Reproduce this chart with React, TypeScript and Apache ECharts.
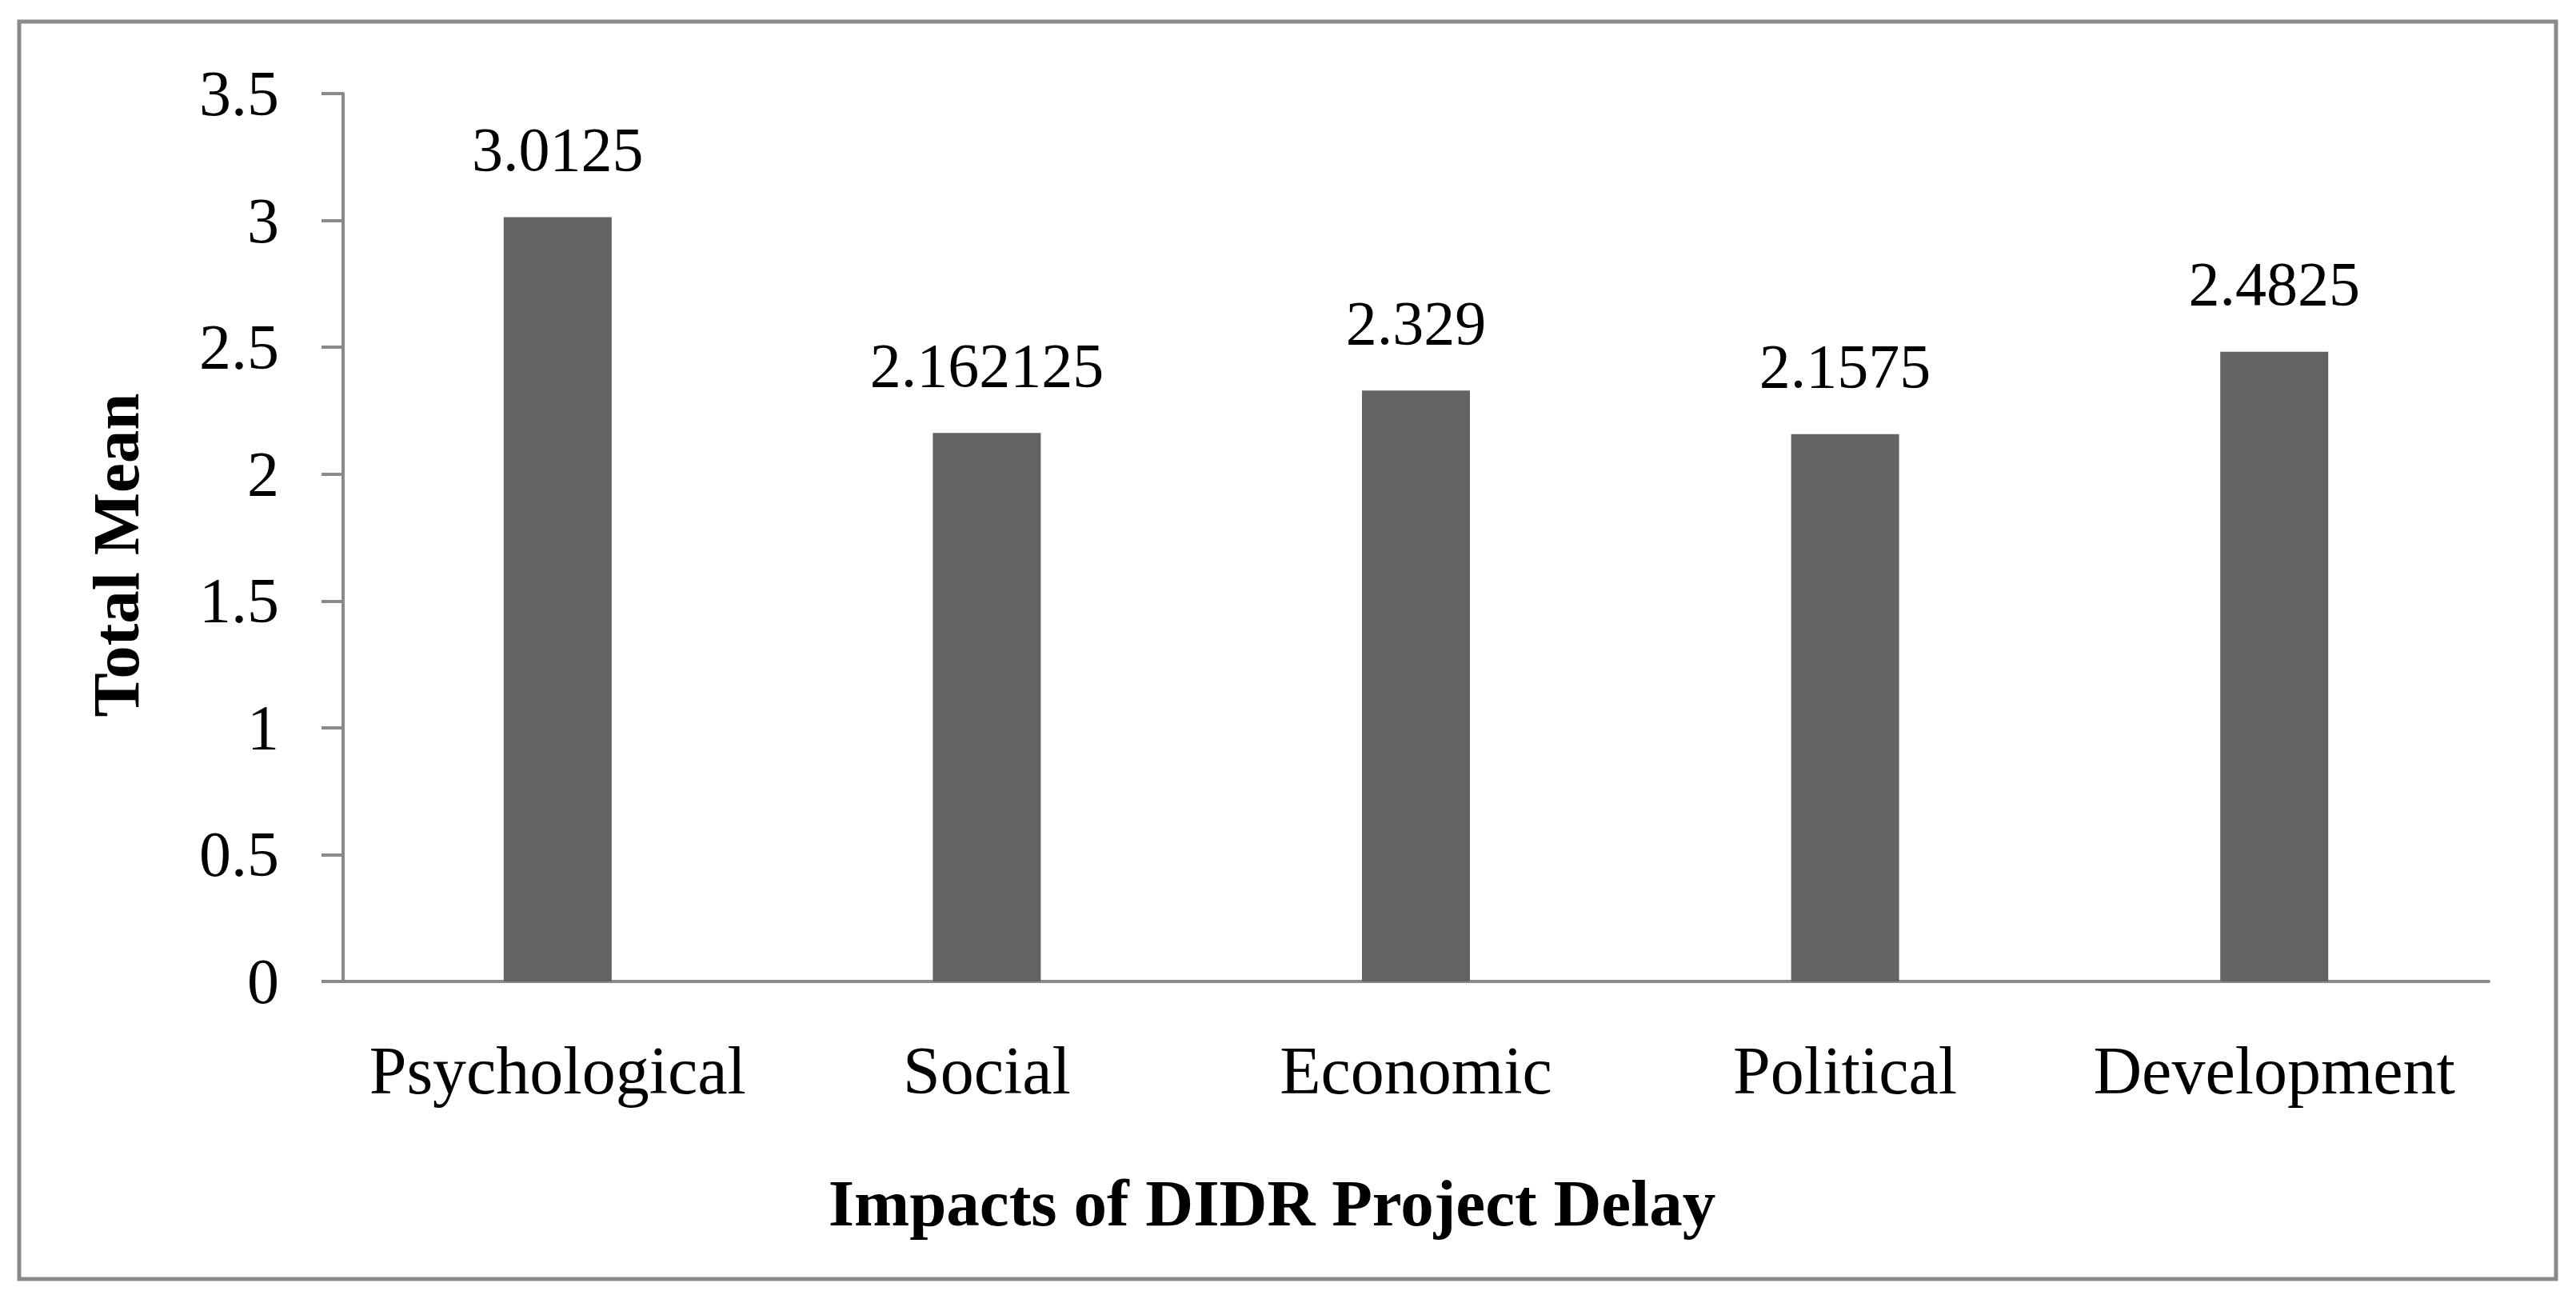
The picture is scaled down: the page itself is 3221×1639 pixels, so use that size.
import React, { useEffect, useRef } from "react";
import * as echarts from "echarts";

const categories = ["Psychological", "Social", "Economic", "Political", "Development"];
const totalMean = [3.0125, 2.162125, 2.329, 2.1575, 2.4825];
const yMin = 0;
const yMax = 3.5;
const yStep = 0.5;
const xAxisTitle = "Impacts of DIDR Project Delay";
const yAxisTitle = "Total Mean";

const FONT = "'Liberation Serif', 'Times New Roman', serif";
const GRAY = "#8a8a8a";

export default function App() {
  const ref = useRef<HTMLDivElement>(null);
  useEffect(() => {
    if (!ref.current) return;
    const chart = echarts.init(ref.current, null, { renderer: "svg" });
    chart.setOption({
      animation: false,
      backgroundColor: "#ffffff",
      textStyle: { fontFamily: FONT },
      graphic: [
        {
          type: "rect",
          shape: { x: 24, y: 27, width: 3172, height: 1572 },
          style: { fill: "none", stroke: GRAY, lineWidth: 5 },
          silent: true,
        },
      ],
      grid: { left: 429, right: 109, top: 117, bottom: 412, containLabel: false },
      xAxis: {
        type: "category",
        data: categories,
        name: xAxisTitle,
        nameLocation: "middle",
        nameGap: 235,
        nameTextStyle: {
          fontFamily: FONT,
          fontSize: 83,
          fontWeight: "bold",
          color: "#000",
          padding: [0, 360, 0, 0],
        },
        axisLine: { show: true, lineStyle: { color: GRAY, width: 4 } },
        axisTick: { show: false },
        axisLabel: { fontFamily: FONT, fontSize: 84, color: "#000", margin: 69, interval: 0 },
        splitLine: { show: false },
      },
      yAxis: {
        type: "value",
        min: yMin,
        max: yMax,
        interval: yStep,
        name: yAxisTitle,
        nameLocation: "middle",
        nameGap: 243,
        nameTextStyle: {
          fontFamily: FONT,
          fontSize: 83,
          fontWeight: "bold",
          color: "#000",
          padding: [0, 44, 0, 0],
        },
        axisLine: { show: true, lineStyle: { color: GRAY, width: 4 } },
        axisTick: { show: true, length: 27, lineStyle: { color: GRAY, width: 4 } },
        axisLabel: { fontFamily: FONT, fontSize: 80, color: "#000", margin: 80 },
        splitLine: { show: false },
      },
      series: [
        {
          type: "bar",
          data: totalMean,
          barWidth: 135,
          itemStyle: { color: "#636363" },
          label: {
            show: true,
            position: "top",
            distance: 46,
            fontFamily: FONT,
            fontSize: 78,
            color: "#000",
          },
        },
      ],
    });
    return () => chart.dispose();
  }, []);
  return (
    <div
      ref={ref}
      style={{ position: "fixed", left: 0, top: 0, width: 3221, height: 1639, background: "#fff" }}
    />
  );
}
